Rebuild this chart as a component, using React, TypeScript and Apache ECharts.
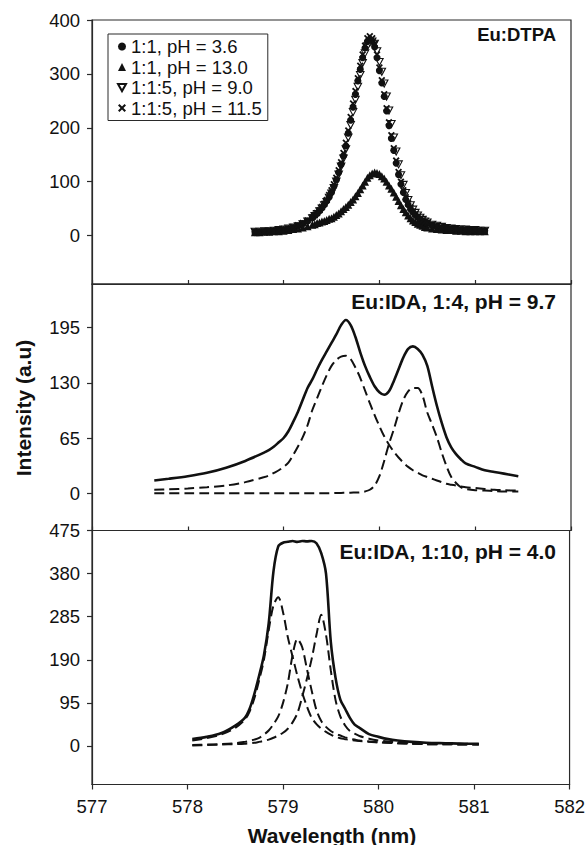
import { useEffect, useRef } from 'react';
import * as echarts from 'echarts';

// ---------- Panel 1 : Eu:DTPA (scatter) ----------
const topX = [
  578.70, 578.75, 578.80, 578.85, 578.90, 578.95, 579.00, 579.05, 579.10, 579.15, 579.20, 579.25,
  579.300, 579.325, 579.350, 579.375, 579.400, 579.425, 579.450, 579.475, 579.500, 579.525,
  579.550, 579.575, 579.600, 579.625, 579.650, 579.675, 579.700, 579.725, 579.750, 579.775,
  579.800, 579.825, 579.850, 579.875, 579.900, 579.925, 579.950, 579.975, 580.000, 580.025,
  580.050, 580.075, 580.100, 580.125, 580.150, 580.175, 580.200, 580.225, 580.250, 580.275,
  580.300, 580.325, 580.350, 580.375, 580.400, 580.425, 580.450, 580.475, 580.500,
  580.55, 580.60, 580.65, 580.70, 580.75, 580.80, 580.85, 580.90, 580.95, 581.00, 581.05, 581.10,
];
const dtpaPh36 = [
  7, 7, 8, 8, 9, 10, 11, 13, 15, 18, 22, 27,
  33, 37, 41, 46, 51, 57, 64, 71, 80, 91,
  103, 117, 132, 148, 166, 190, 214, 238, 262, 287,
  308, 330, 348, 360, 364, 361, 350, 330, 306, 283,
  258, 231, 204, 180, 158, 134, 113, 95, 80, 67,
  57, 49, 43, 38, 34, 30, 27, 25, 23,
  19, 17, 15, 14, 13, 12, 11, 11, 10, 10, 9, 9,
];
const dtpaPh130 = [
  6, 6, 7, 7, 8, 8, 9, 10, 12, 13, 15, 17,
  20, 21, 23, 24, 26, 27, 29, 31, 32, 35,
  38, 41, 45, 49, 53, 57, 62, 67, 73, 79,
  86, 93, 100, 107, 112, 115, 117, 116, 114, 110,
  106, 100, 93, 87, 80, 72, 64, 56, 49, 43,
  37, 32, 28, 25, 22, 20, 18, 16, 15,
  13, 12, 11, 10, 10, 9, 9, 8, 8, 8, 8, 8,
];
const dtpaPh90 = [
  7, 7, 8, 8, 9, 10, 11, 13, 15, 17, 21, 26,
  32, 36, 40, 45, 50, 56, 62, 70, 78, 88,
  100, 113, 128, 143, 160, 182, 205, 229, 252, 276,
  298, 320, 338, 351, 358, 360, 356, 342, 322, 304,
  282, 258, 232, 207, 182, 156, 132, 112, 94, 79,
  66, 56, 48, 42, 37, 33, 29, 26, 24,
  20, 18, 16, 14, 13, 12, 11, 11, 10, 10, 9, 9,
];
const dtpaPh115 = [
  7, 7, 8, 9, 9, 10, 12, 13, 16, 19, 23, 28,
  34, 38, 42, 47, 53, 59, 66, 75, 84, 95,
  107, 121, 136, 153, 172, 195, 220, 245, 268, 292,
  315, 336, 352, 366, 370, 366, 356, 336, 312, 288,
  262, 236, 210, 186, 162, 139, 118, 100, 84, 71,
  60, 52, 45, 40, 35, 31, 28, 25, 23,
  20, 17, 15, 14, 13, 12, 11, 11, 10, 10, 9, 9,
];
const legendNames = ['1:1, pH = 3.6', '1:1, pH = 13.0', '1:1:5, pH = 9.0', '1:1:5, pH = 11.5'];

// ---------- Panel 2 : Eu:IDA 1:4 ----------
const midX = [
  577.65, 577.8, 578.0, 578.2, 578.4, 578.6,
  578.8, 578.85, 578.9, 578.95, 579.0, 579.05, 579.1, 579.15, 579.2, 579.25,
  579.3, 579.35, 579.4, 579.45, 579.5, 579.55, 579.6, 579.65, 579.7, 579.75,
  579.8, 579.85, 579.9, 579.95, 580.0, 580.05, 580.1, 580.15, 580.2, 580.25,
  580.3, 580.35, 580.4, 580.45, 580.5, 580.55, 580.6, 580.65, 580.7, 580.75,
  580.8, 580.85, 580.9,
  581.0, 581.1, 581.2, 581.3, 581.45,
];
const midTotal = [
  15, 17, 20, 24, 30, 38,
  48, 51, 55, 60, 65, 73, 84, 96, 110, 124,
  134, 146, 157, 167, 177, 187, 198, 204, 198, 184,
  166, 150, 137, 126, 119, 116, 120, 132, 146, 160,
  170, 173, 170, 163, 150, 126, 103, 83, 66, 54,
  46, 40, 35,
  31, 27, 25, 23, 20,
];
const midComp1 = [
  4, 4.5, 5.5, 7, 9, 13,
  19, 21, 24, 27, 31, 36, 45, 55, 66, 80,
  98, 112, 126, 139, 150, 157, 161, 162, 158, 148,
  136, 121, 106, 92, 79, 67, 57, 49, 42, 36,
  31, 27, 24, 21, 19, 17, 15, 13, 11, 10,
  9, 8, 7,
  6, 5, 4, 3.5, 3,
];
const midComp2 = [
  0, 0, 0, 0, 0, 0,
  0, 0, 0, 0, 0, 0, 0, 0, 0, 0,
  0, 0, 0, 0, 0, 0.2, 0.3, 0.4, 0.5, 0.8,
  1, 2, 4, 9, 20, 38, 58, 75, 94, 110,
  120, 124, 124, 115, 95, 81, 66, 48, 32, 19,
  12, 7, 5,
  3.5, 3, 2.5, 2, 2,
];

// ---------- Panel 3 : Eu:IDA 1:10 ----------
const botX = [
  578.05, 578.2, 578.35, 578.5,
  578.6, 578.65, 578.7, 578.75, 578.8, 578.85, 578.9, 578.95, 579.0, 579.05,
  579.1, 579.15, 579.2, 579.25, 579.3, 579.35, 579.4, 579.45, 579.5, 579.55,
  579.6, 579.65, 579.7, 579.75, 579.8,
  579.9, 580.0, 580.1, 580.2, 580.35, 580.5, 580.7, 580.9, 581.05,
];
const botTotal = [
  15, 20, 28, 45,
  62, 82, 115, 155, 200, 270, 385, 440, 448, 450,
  452, 450, 452, 451, 452, 447, 425, 380, 230, 150,
  102, 82, 62, 47, 40,
  26, 20, 15, 12, 9, 7, 6, 5, 5,
];
const botComp1 = [
  12, 17, 25, 40,
  58, 76, 105, 145, 190, 255, 310, 328, 295, 240,
  197, 155, 118, 87, 62, 48, 38, 31, 25, 20,
  17, 15, 13, 12, 11,
  9, 8, 7, 6, 5, 4, 4, 3, 3,
];
const botComp2 = [
  2, 3, 4, 6,
  9, 11, 14, 18, 25, 34, 48, 65, 95, 138,
  200, 236, 218, 170, 122, 79, 55, 42, 33, 27,
  23, 19, 16, 14, 12,
  10, 8, 7, 6, 5, 4, 4, 3, 3,
];
const botComp3 = [
  1, 2, 3, 4,
  5, 6, 7, 9, 11, 14, 18, 23, 29, 38,
  52, 72, 108, 148, 192, 245, 289, 245, 167, 101,
  65, 45, 33, 27, 22,
  16, 12, 10, 8, 7, 6, 5, 5, 4,
];

// tick labels
const xTicks = [577, 578, 579, 580, 581, 582];
const yTicksTop = [0, 100, 200, 300, 400];
const yTicksMid = [0, 65, 130, 195];
const yTicksBot = [0, 95, 190, 285, 380, 475];

const FONT = '"Liberation Sans", Arial, Helvetica, sans-serif';
const AX = '#2a2a2a';
const INK = '#111';

const zip = (xs: number[], ys: number[]) => xs.map((x, i) => [x, ys[i]]);

export default function App() {
  const ref = useRef<HTMLDivElement>(null);
  useEffect(() => {
    const chart = echarts.init(ref.current!, null, { renderer: 'svg' });
    const gridBase = { left: 92, right: 17, show: true, borderColor: AX, borderWidth: 1.2, backgroundColor: 'transparent' };
    const xAxisBase = (i: number, bottom: boolean) => ({
      type: 'value',
      gridIndex: i,
      min: xTicks[0],
      max: xTicks[xTicks.length - 1],
      interval: 1,
      splitLine: { show: false },
      axisLine: { show: true, onZero: false, lineStyle: { color: AX, width: 1.2 } },
      axisTick: bottom
        ? { show: true, inside: false, length: 5, lineStyle: { color: AX, width: 1.2 } }
        : { show: true, inside: true, length: 4, lineStyle: { color: AX, width: 1.2 } },
      axisLabel: bottom
        ? { show: true, fontSize: 18.5, color: INK, fontFamily: FONT, margin: 12 }
        : { show: false },
    });
    const yAxisBase = (i: number, min: number, max: number, ticks: number[]) => ({
      type: 'value',
      gridIndex: i,
      min,
      max,
      splitLine: { show: false },
      axisLine: { show: true, onZero: false, lineStyle: { color: AX, width: 1.2 } },
      axisTick: { show: true, inside: false, length: 5, customValues: ticks, lineStyle: { color: AX, width: 1.2 } },
      axisLabel: { show: true, customValues: ticks, fontSize: 18.5, color: INK, fontFamily: FONT, margin: 12 },
    });
    const crossPath = 'path://M0,1.8L1.8,0L5,3.2L8.2,0L10,1.8L6.8,5L10,8.2L8.2,10L5,6.8L1.8,10L0,8.2L3.2,5Z';
    const downTri = 'path://M0,0L10,0L5,9Z';
    const solid = { type: 'solid', width: 2.6, color: INK };
    const dashed = { type: [10, 5], width: 2, color: INK };
    const lineSeries = (name: string, xi: number, xs: number[], ys: number[], ls: any) => ({
      type: 'line',
      name,
      xAxisIndex: xi,
      yAxisIndex: xi,
      data: zip(xs, ys),
      showSymbol: false,
      smooth: 0.3,
      lineStyle: ls,
      itemStyle: { color: INK },
      silent: true,
    });

    const option: any = {
      animation: false,
      backgroundColor: '#fff',
      grid: [
        { ...gridBase, top: 20, height: 264 },
        { ...gridBase, top: 284, height: 246.5 },
        { ...gridBase, top: 530.5, height: 254 },
      ],
      xAxis: [xAxisBase(0, false), xAxisBase(1, false), xAxisBase(2, true)],
      yAxis: [
        yAxisBase(0, -90, 400, yTicksTop),
        yAxisBase(1, -44, 246.5, yTicksMid),
        yAxisBase(2, -85, 475, yTicksBot),
      ],
      legend: {
        data: legendNames,
        orient: 'vertical',
        left: 108,
        top: 34,
        backgroundColor: '#fff',
        borderColor: AX,
        borderWidth: 1,
        padding: [3, 6, 3, 9],
        itemGap: 1.5,
        itemWidth: 8,
        itemHeight: 8,
        selectedMode: false,
        textStyle: { fontSize: 18.5, color: INK, fontFamily: FONT },
      },
      series: [
        {
          type: 'scatter', name: legendNames[1], xAxisIndex: 0, yAxisIndex: 0,
          data: zip(topX, dtpaPh130), symbol: 'triangle', symbolSize: 8,
          itemStyle: { color: INK, opacity: 1 },
        },
        {
          type: 'scatter', name: legendNames[2], xAxisIndex: 0, yAxisIndex: 0,
          data: zip(topX, dtpaPh90), symbol: downTri, symbolSize: [7.5, 7],
          itemStyle: { color: '#fff', borderColor: INK, borderWidth: 1.1, opacity: 1 },
        },
        {
          type: 'scatter', name: legendNames[0], xAxisIndex: 0, yAxisIndex: 0,
          data: zip(topX, dtpaPh36), symbol: 'circle', symbolSize: 7,
          itemStyle: { color: INK, opacity: 1 },
        },
        {
          type: 'scatter', name: legendNames[3], xAxisIndex: 0, yAxisIndex: 0,
          data: zip(topX, dtpaPh115), symbol: crossPath, symbolSize: 7,
          itemStyle: { color: INK, opacity: 1 },
        },
        lineSeries('mid-total', 1, midX, midTotal, solid),
        lineSeries('mid-c1', 1, midX, midComp1, dashed),
        lineSeries('mid-c2', 1, midX, midComp2, dashed),
        lineSeries('bot-total', 2, botX, botTotal, solid),
        lineSeries('bot-c1', 2, botX, botComp1, dashed),
        lineSeries('bot-c2', 2, botX, botComp2, dashed),
        lineSeries('bot-c3', 2, botX, botComp3, dashed),
      ],
      graphic: [
        {
          type: 'text', x: 556, y: 34,
          style: { text: 'Eu:DTPA', font: `bold 18.5px ${FONT}`, fill: INK, textAlign: 'right', textVerticalAlign: 'middle' },
        },
        {
          type: 'text', x: 556, y: 301,
          style: { text: 'Eu:IDA, 1:4, pH = 9.7', font: `bold 21px ${FONT}`, fill: INK, textAlign: 'right', textVerticalAlign: 'middle' },
        },
        {
          type: 'text', x: 556, y: 551,
          style: { text: 'Eu:IDA, 1:10, pH = 4.0', font: `bold 21px ${FONT}`, fill: INK, textAlign: 'right', textVerticalAlign: 'middle' },
        },
        {
          type: 'text', x: 23, y: 408, rotation: Math.PI / 2,
          style: { text: 'Intensity (a.u)', font: `bold 21px ${FONT}`, fill: INK, textAlign: 'center', textVerticalAlign: 'middle' },
        },
        {
          type: 'text', x: 332, y: 835,
          style: { text: 'Wavelength (nm)', font: `bold 21px ${FONT}`, fill: INK, textAlign: 'center', textVerticalAlign: 'middle' },
        },
      ],
    };
    chart.setOption(option);
    return () => chart.dispose();
  }, []);
  return <div ref={ref} style={{ position: 'absolute', left: 0, top: 0, width: 588, height: 845 }} />;
}
